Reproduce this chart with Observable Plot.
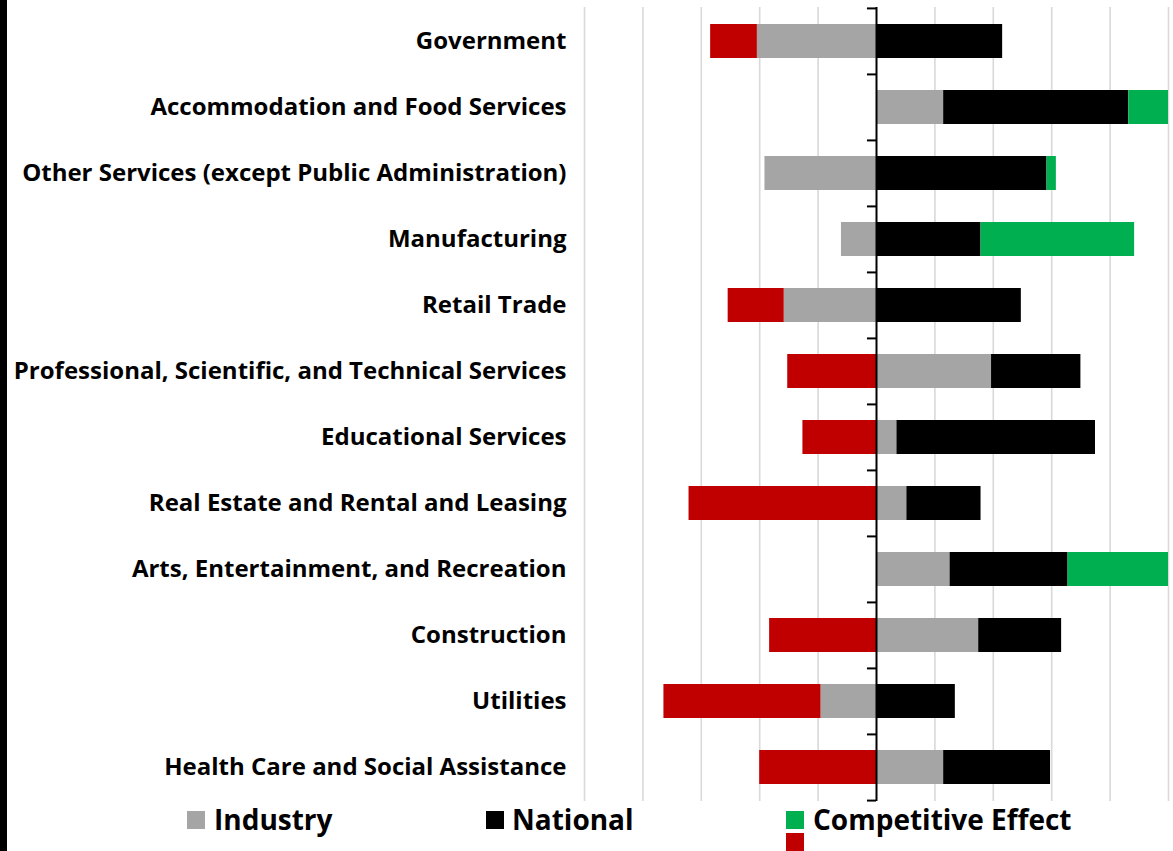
<!DOCTYPE html>
<html>
<head>
<meta charset="utf-8">
<script src="https://cdn.jsdelivr.net/npm/d3@7"></script>
<script src="https://cdn.jsdelivr.net/npm/@observablehq/plot@0.6"></script>
<style>
  html, body { margin: 0; padding: 0; background: #fff; }
  #wrap { position: relative; width: 1173px; height: 851px; overflow: hidden; font-family: "Open Sans", Lato, sans-serif; }
  #strip { position: absolute; left: 0; top: 0; width: 7px; height: 851px; background: #000; }
  #chart { position: absolute; left: 0; top: 0; }
  .lg-sq { position: absolute; width: 18px; height: 18px; }
  .lg-tx { position: absolute; font-size: 28px; font-weight: bold; color: #000; line-height: 1; white-space: nowrap; }
</style>
</head>
<body>
<div id="wrap">
  <div id="chart"></div>
  <div id="strip"></div>
  <div id="legend"></div>
</div>
<script>
const categories = [
  "Government",
  "Accommodation and Food Services",
  "Other Services (except Public Administration)",
  "Manufacturing",
  "Retail Trade",
  "Professional, Scientific, and Technical Services",
  "Educational Services",
  "Real Estate and Rental and Leasing",
  "Arts, Entertainment, and Recreation",
  "Construction",
  "Utilities",
  "Health Care and Social Assistance"
];
const industry    = [-2.04, 1.15, -1.91, -0.60, -1.58, 1.97, 0.35, 0.52, 1.26, 1.75, -0.95, 1.15];
const national    = [ 2.16, 3.17,  2.92,  1.79,  2.48, 1.53, 3.40, 1.27, 2.02, 1.42,  1.35, 1.83];
const competitive = [-0.80, 0.75,  0.16,  2.63, -0.96,-1.52,-1.26,-3.21, 1.85,-1.83, -2.69,-2.00];
const seriesNames = ["Industry", "National", "Competitive Effect"];
const xTicks = [-5, -4, -3, -2, -1, 1, 2, 3, 4, 5];

const colorKeys = ["Industry", "National", "Competitive +", "Competitive -"];
const colorRange = ["#a5a5a5", "#000000", "#00b050", "#c00000"];

const rows = [];
categories.forEach((c, i) => {
  rows.push({category: c, series: "Industry", key: "Industry", value: industry[i]});
  rows.push({category: c, series: "National", key: "National", value: national[i]});
  rows.push({category: c, series: "Competitive Effect", key: competitive[i] >= 0 ? "Competitive +" : "Competitive -", value: competitive[i]});
});

const W = 1173, H = 805, MT = 7, MB = 4, ML = 584, MR = 5;
const step = (H - MT - MB) / categories.length;

const plot = Plot.plot({
  width: W,
  height: H,
  marginTop: MT,
  marginBottom: MB,
  marginLeft: ML,
  marginRight: MR,
  style: {fontFamily: "'Open Sans', Lato, sans-serif", color: "#000", background: "transparent"},
  x: {domain: [-5, 5], axis: null},
  y: {domain: categories, paddingInner: 0.49, paddingOuter: 0.245, label: null},
  color: {domain: colorKeys, range: colorRange},
  marks: [
    Plot.gridX(xTicks, {stroke: "#d9d9d9", strokeOpacity: 1, strokeWidth: 1.6}),
    Plot.barX(rows, Plot.stackX({x: "value", y: "category", fill: "key", clip: true})),
    Plot.ruleX([0], {stroke: "#000", strokeWidth: 2}),
    Plot.ruleY(categories, {y: d => d, x1: 0, x2: -0.155, stroke: "#000", strokeWidth: 2, dy: -step / 2}),
    Plot.ruleY(categories.slice(-1), {y: d => d, x1: 0, x2: -0.155, stroke: "#000", strokeWidth: 2, dy: step / 2}),
    Plot.axisY({tickSize: 0, tickPadding: 18, fontSize: 24, fontWeight: "bold", fill: "#000", label: null})
  ]
});
document.getElementById("chart").appendChild(plot);

// legend (HTML, below the plot)
const legend = document.getElementById("legend");
const legendItems = [
  {label: "Industry", colors: ["#a5a5a5"], sq: 187, tx: 214},
  {label: "National", colors: ["#000000"], sq: 486, tx: 512},
  {label: "Competitive Effect", colors: ["#00b050", "#c00000"], sq: 786, tx: 813}
];
legendItems.forEach(it => {
  it.colors.forEach((c, j) => {
    const s = document.createElement("div");
    s.className = "lg-sq";
    s.style.left = it.sq + "px";
    s.style.top = (811 + j * 22) + "px";
    s.style.background = c;
    legend.appendChild(s);
  });
  const t = document.createElement("div");
  t.className = "lg-tx";
  t.style.left = it.tx + "px";
  t.style.top = "805px";
  t.textContent = it.label;
  legend.appendChild(t);
});
</script>
</body>
</html>
